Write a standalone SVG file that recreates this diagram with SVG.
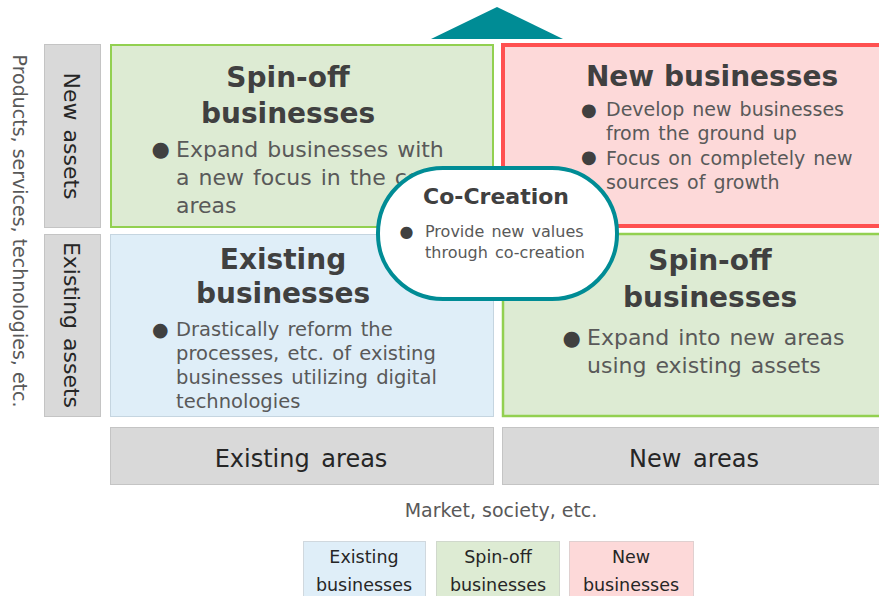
<svg xmlns="http://www.w3.org/2000/svg" width="879" height="596" viewBox="0 0 879 596">
  <style>
    text { font-family: "DejaVu Sans", "Liberation Sans", sans-serif; }
    .title { font-weight: bold; font-size: 28px; fill: #404040; text-anchor: middle; }
    .body { fill: #595959; word-spacing: 2px; }
    .dot { fill: #404040; }
    .axis { fill: #262626; font-size: 22px; text-anchor: middle; word-spacing: 2px; }
    .area { fill: #262626; font-size: 24px; text-anchor: middle; word-spacing: 4px; }
    .note { fill: #595959; font-size: 19px; text-anchor: middle; }
    .key { fill: #262626; font-size: 17.5px; text-anchor: middle; }
    .green { fill: #DDEBD3; stroke: #92D050; }
    .red { fill: #FDD9D9; stroke: #FF5050; }
    .blue { fill: #DFEEF8; stroke: #C5D5E0; }
    .gray { fill: #D9D9D9; stroke: #C4C4C4; stroke-width: 1; }
  </style>

  <!-- upward arrow head above the matrix -->
  <polygon id="arrow-head" points="431,39 497,7 563,39" fill="#008C95"/>

  <!-- vertical axis captions -->
  <g id="axis-vertical">
    <text class="note" transform="translate(13,231) rotate(90)">Products, services, technologies, etc.</text>
  </g>
  <g id="row-new-assets">
    <rect class="gray" x="44.5" y="44.5" width="56" height="183"/>
    <text class="axis" transform="translate(64,136) rotate(90)">New assets</text>
  </g>
  <g id="row-existing-assets">
    <rect class="gray" x="44.5" y="234.5" width="56" height="182"/>
    <text class="axis" transform="translate(64,325) rotate(90)">Existing assets</text>
  </g>

  <!-- quadrant: spin-off (new assets, existing areas) -->
  <g id="spinoff-top">
    <rect class="green" x="111" y="45" width="382" height="182" stroke-width="2"/>
    <text class="title" x="288" y="87">Spin-off</text>
    <text class="title" x="288" y="123">businesses</text>
    <text class="dot" x="151.5" y="156" font-size="21">●</text>
    <text class="body" font-size="22" x="176" y="157">Expand businesses with</text>
    <text class="body" font-size="22" x="176" y="185">a new focus in the core</text>
    <text class="body" font-size="22" x="176" y="213">areas</text>
  </g>

  <!-- quadrant: new businesses -->
  <g id="new-businesses">
    <rect class="red" x="503" y="45" width="390" height="181" stroke-width="4"/>
    <text class="title" x="712" y="86">New businesses</text>
    <text class="dot" x="581" y="116" font-size="18">●</text>
    <text class="body" font-size="19" x="606" y="116">Develop new businesses</text>
    <text class="body" font-size="19" x="606" y="140">from the ground up</text>
    <text class="dot" x="581" y="163" font-size="18">●</text>
    <text class="body" font-size="19" x="606" y="165">Focus on completely new</text>
    <text class="body" font-size="19" x="606" y="189">sources of growth</text>
  </g>

  <!-- quadrant: existing businesses -->
  <g id="existing-businesses">
    <rect class="blue" x="110.5" y="234.5" width="383" height="182" stroke-width="1"/>
    <text class="title" x="283" y="269">Existing</text>
    <text class="title" x="283" y="303">businesses</text>
    <text class="dot" x="152" y="336" font-size="19">●</text>
    <text class="body" font-size="19.5" x="176" y="336">Drastically reform the</text>
    <text class="body" font-size="19.5" x="176" y="360">processes, etc. of existing</text>
    <text class="body" font-size="19.5" x="176" y="384">businesses utilizing digital</text>
    <text class="body" font-size="19.5" x="176" y="408">technologies</text>
  </g>

  <!-- quadrant: spin-off (existing assets, new areas) -->
  <g id="spinoff-bottom">
    <rect class="green" x="503" y="234" width="390" height="182" stroke-width="2.5"/>
    <text class="title" x="710" y="270">Spin-off</text>
    <text class="title" x="710" y="307">businesses</text>
    <text class="dot" x="562.5" y="345" font-size="21">●</text>
    <text class="body" font-size="22" x="587" y="345">Expand into new areas</text>
    <text class="body" font-size="22" x="587" y="373">using existing assets</text>
  </g>

  <!-- co-creation bubble on the centre of the matrix -->
  <g id="co-creation">
    <rect x="378" y="168" width="239" height="131" rx="65" ry="65" fill="#FFFFFF" stroke="#008C95" stroke-width="4"/>
    <text x="496" y="204" font-size="22" font-weight="bold" fill="#404040" text-anchor="middle">Co-Creation</text>
    <text class="dot" x="399.5" y="237" font-size="16">●</text>
    <text class="body" font-size="16" x="425" y="237" word-spacing="1">Provide new values</text>
    <text class="body" font-size="16" x="425" y="258" word-spacing="1">through co-creation</text>
  </g>

  <!-- horizontal axis captions -->
  <g id="col-existing-areas">
    <rect class="gray" x="110.5" y="427.5" width="383" height="57"/>
    <text class="area" x="301" y="467">Existing areas</text>
  </g>
  <g id="col-new-areas">
    <rect class="gray" x="502.5" y="427.5" width="390" height="57"/>
    <text class="area" x="694" y="467">New areas</text>
  </g>
  <g id="axis-horizontal">
    <text class="note" x="501" y="517">Market, society, etc.</text>
  </g>

  <!-- legend -->
  <g id="legend-existing">
    <rect x="303.5" y="541.5" width="122" height="70" fill="#DFEEF8" stroke="#D0D8DE"/>
    <text class="key" x="364" y="563">Existing</text>
    <text class="key" x="364" y="591">businesses</text>
  </g>
  <g id="legend-spinoff">
    <rect x="436.5" y="541.5" width="123" height="70" fill="#DDEBD3" stroke="#D0D8CC"/>
    <text class="key" x="498" y="563">Spin-off</text>
    <text class="key" x="498" y="591">businesses</text>
  </g>
  <g id="legend-new">
    <rect x="569.5" y="541.5" width="124" height="70" fill="#FDD9D9" stroke="#E0D0D0"/>
    <text class="key" x="631" y="563">New</text>
    <text class="key" x="631" y="591">businesses</text>
  </g>
</svg>
